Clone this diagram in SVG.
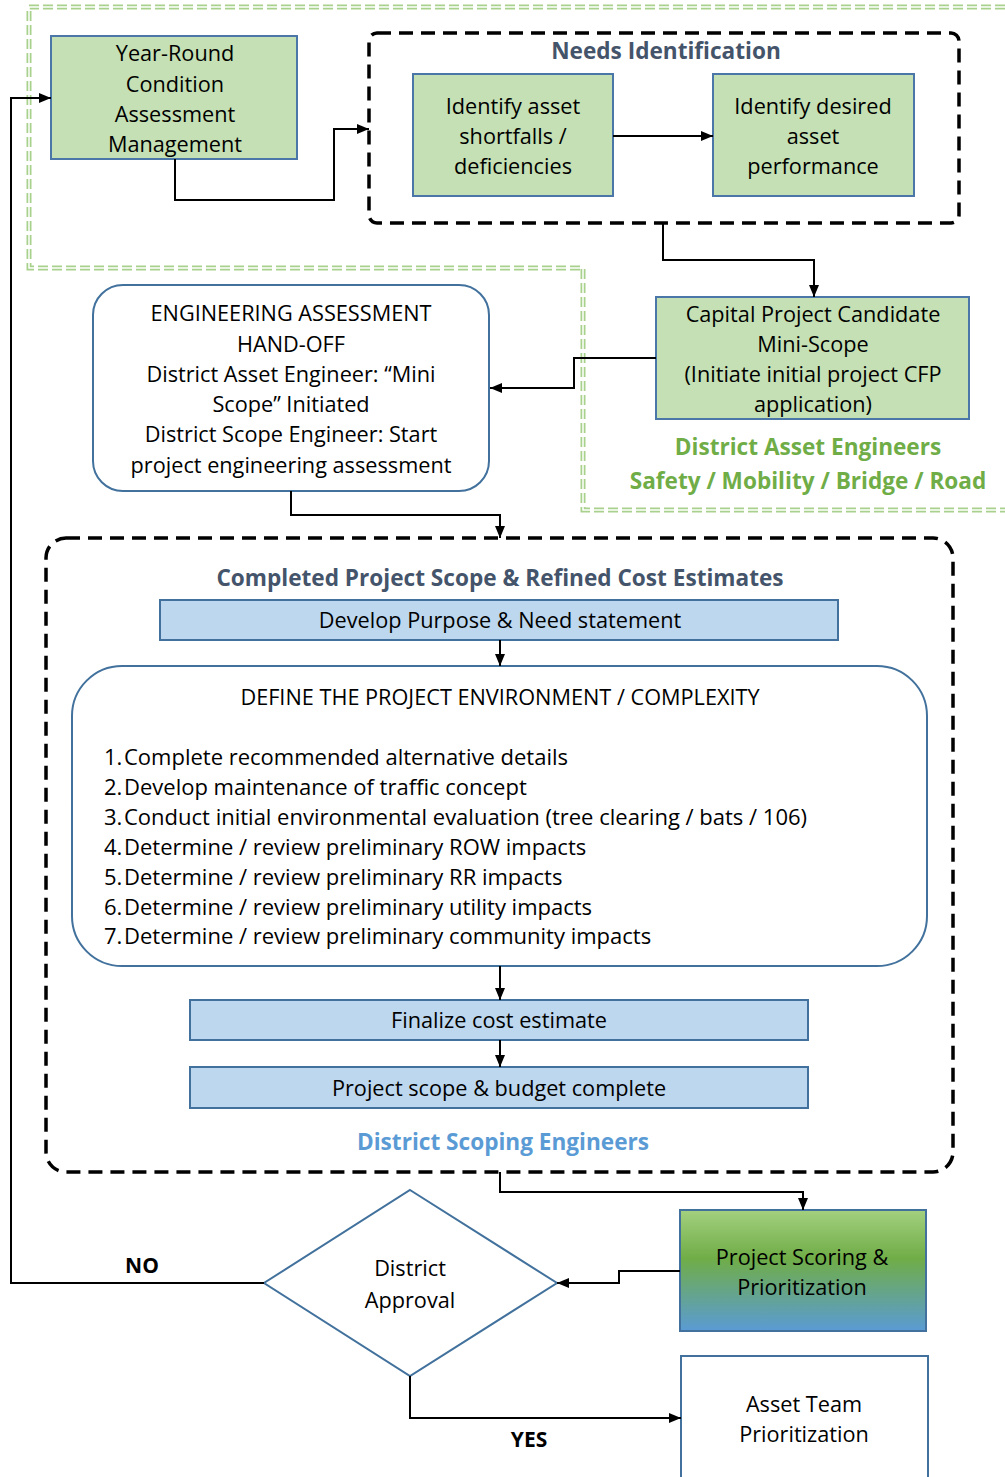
<svg xmlns="http://www.w3.org/2000/svg" width="1005" height="1477" viewBox="0 0 1005 1477">
<defs>
<marker id="ah" viewBox="0 0 12 10" refX="12" refY="5" markerWidth="12" markerHeight="10" markerUnits="userSpaceOnUse" orient="auto">
<path d="M0,0 L12,5 L0,10 Z" fill="#000"/>
</marker>
<linearGradient id="grad" x1="0" y1="0" x2="0" y2="1">
<stop offset="0" stop-color="#a3d07f"/>
<stop offset="0.4" stop-color="#70ad47"/>
<stop offset="1" stop-color="#5a9bd5"/>
</linearGradient>
<style>
text{font-family:"Open Sans",Lato,"Liberation Sans",sans-serif;fill:#000;}
.t{font-size:21.7px;text-anchor:middle;}
.l{font-size:22px;}
.n{font-size:20px;}
.h{font-size:22.6px;font-weight:bold;fill:#44546a;text-anchor:middle;}
.g{font-size:22.6px;font-weight:bold;fill:#70ad47;text-anchor:middle;}
.b{font-size:22.6px;font-weight:bold;fill:#5b9bd5;text-anchor:middle;}
.k{font-size:21px;font-weight:bold;text-anchor:middle;}
.gr{fill:#c5e0b4;stroke:#4a76a8;stroke-width:2;}
.bl{fill:#bdd7ee;stroke:#41719c;stroke-width:2;}
.wb{fill:#fff;stroke:#41719c;stroke-width:2;}
.dash{fill:none;stroke:#000;stroke-width:3.5;stroke-dasharray:14,8;}
.ca{fill:none;stroke:#000;stroke-width:2;marker-end:url(#ah);}
</style>
</defs>
<rect width="1005" height="1477" fill="#fff"/>

<g id="green-boundary">
<path d="M1005,7 H29 V268 H583 V510 H1005" fill="none" stroke="#a9d18e" stroke-width="5" stroke-dasharray="10,4"/>
<path d="M1005,7 H29 V268 H583 V510 H1005" fill="none" stroke="#fff" stroke-width="1.5"/>
</g>

<g id="needs-group">
<rect x="369" y="33" width="590" height="190" rx="8" class="dash"/>
<text x="666" y="59" class="h">Needs Identification</text>
</g>

<g id="scope-group">
<rect x="46" y="538" width="907" height="634" rx="20" class="dash"/>
<text x="500" y="586" class="h">Completed Project Scope &amp; Refined Cost Estimates</text>
<text x="503" y="1150" class="b">District Scoping Engineers</text>
</g>

<g id="year-round">
<rect x="51" y="36" width="246" height="123" class="gr"/>
<text class="t" x="175" y="61">Year-Round</text>
<text class="t" x="175" y="92">Condition</text>
<text class="t" x="175" y="122">Assessment</text>
<text class="t" x="175" y="152">Management</text>
</g>

<g id="identify-shortfalls">
<rect x="413" y="74" width="200" height="122" class="gr"/>
<text class="t" x="513" y="114">Identify asset</text>
<text class="t" x="513" y="144">shortfalls /</text>
<text class="t" x="513" y="174">deficiencies</text>
</g>

<g id="identify-performance">
<rect x="713" y="74" width="201" height="122" class="gr"/>
<text class="t" x="813" y="114">Identify desired</text>
<text class="t" x="813" y="144">asset</text>
<text class="t" x="813" y="174">performance</text>
</g>

<g id="capital-project">
<rect x="656" y="297" width="313" height="122" class="gr"/>
<text class="t" x="813" y="322">Capital Project Candidate</text>
<text class="t" x="813" y="352">Mini-Scope</text>
<text class="t" x="813" y="382">(Initiate initial project CFP</text>
<text class="t" x="813" y="412">application)</text>
</g>

<g id="asset-engineers-label">
<text class="g" x="808" y="455">District Asset Engineers</text>
<text class="g" x="808" y="489">Safety / Mobility / Bridge / Road</text>
</g>

<g id="engineering-handoff">
<rect x="93" y="285" width="396" height="206" rx="30" class="wb"/>
<text class="t" x="291" y="321">ENGINEERING ASSESSMENT</text>
<text class="t" x="291" y="352">HAND-OFF</text>
<text class="t" x="291" y="382">District Asset Engineer: “Mini</text>
<text class="t" x="291" y="412">Scope” Initiated</text>
<text class="t" x="291" y="442">District Scope Engineer: Start</text>
<text class="t" x="291" y="473">project engineering assessment</text>
</g>

<g id="purpose-need">
<rect x="160" y="600" width="678" height="40" class="bl"/>
<text class="t" x="500" y="628">Develop Purpose &amp; Need statement</text>
</g>

<g id="project-environment">
<rect x="72" y="666" width="855" height="300" rx="50" class="wb"/>
<text class="t" x="500" y="705">DEFINE THE PROJECT ENVIRONMENT / COMPLEXITY</text>
<text class="l" x="104" y="765">1.</text><text class="l" x="124" y="765">Complete recommended alternative details</text>
<text class="l" x="104" y="795">2.</text><text class="l" x="124" y="795">Develop maintenance of traffic concept</text>
<text class="l" x="104" y="825">3.</text><text class="l" x="124" y="825">Conduct initial environmental evaluation (tree clearing / bats / 106)</text>
<text class="l" x="104" y="855">4.</text><text class="l" x="124" y="855">Determine / review preliminary ROW impacts</text>
<text class="l" x="104" y="885">5.</text><text class="l" x="124" y="885">Determine / review preliminary RR impacts</text>
<text class="l" x="104" y="915">6.</text><text class="l" x="124" y="915">Determine / review preliminary utility impacts</text>
<text class="l" x="104" y="944">7.</text><text class="l" x="124" y="944">Determine / review preliminary community impacts</text>
</g>

<g id="finalize-cost">
<rect x="190" y="1000" width="618" height="40" class="bl"/>
<text class="t" x="499" y="1028">Finalize cost estimate</text>
</g>

<g id="scope-budget">
<rect x="190" y="1067" width="618" height="41" class="bl"/>
<text class="t" x="499" y="1096">Project scope &amp; budget complete</text>
</g>

<g id="project-scoring">
<rect x="680" y="1210" width="246" height="121" fill="url(#grad)" stroke="#41719c" stroke-width="2"/>
<text class="t" x="802" y="1265">Project Scoring &amp;</text>
<text class="t" x="802" y="1295">Prioritization</text>
</g>

<g id="district-approval">
<path d="M410,1190 L557,1283 L410,1376 L264,1283 Z" class="wb"/>
<text class="t" x="410" y="1276">District</text>
<text class="t" x="410" y="1308">Approval</text>
</g>

<g id="asset-team">
<rect x="681" y="1356" width="247" height="130" class="wb"/>
<text class="t" x="804" y="1412">Asset Team</text>
<text class="t" x="804" y="1442">Prioritization</text>
</g>

<g id="connectors">
<path d="M175,159 V200 H334 V129 H369" class="ca"/>
<path d="M613,136 H713" class="ca"/>
<path d="M663,223 V260 H814 V297" class="ca"/>
<path d="M656,358 H574 V388 H490" class="ca"/>
<path d="M291,491 V515 H500 V538" class="ca"/>
<path d="M500,640 V666" class="ca"/>
<path d="M500,966 V1000" class="ca"/>
<path d="M500,1040 V1067" class="ca"/>
<path d="M500,1172 V1192 H803 V1210" class="ca"/>
<path d="M680,1271 H619 V1283 H557" class="ca"/>
<path d="M264,1283 H11 V98 H51" class="ca"/>
<path d="M410,1376 V1418 H681" class="ca"/>
<text class="k" x="142" y="1273">NO</text>
<text class="k" x="529" y="1447">YES</text>
</g>
</svg>
